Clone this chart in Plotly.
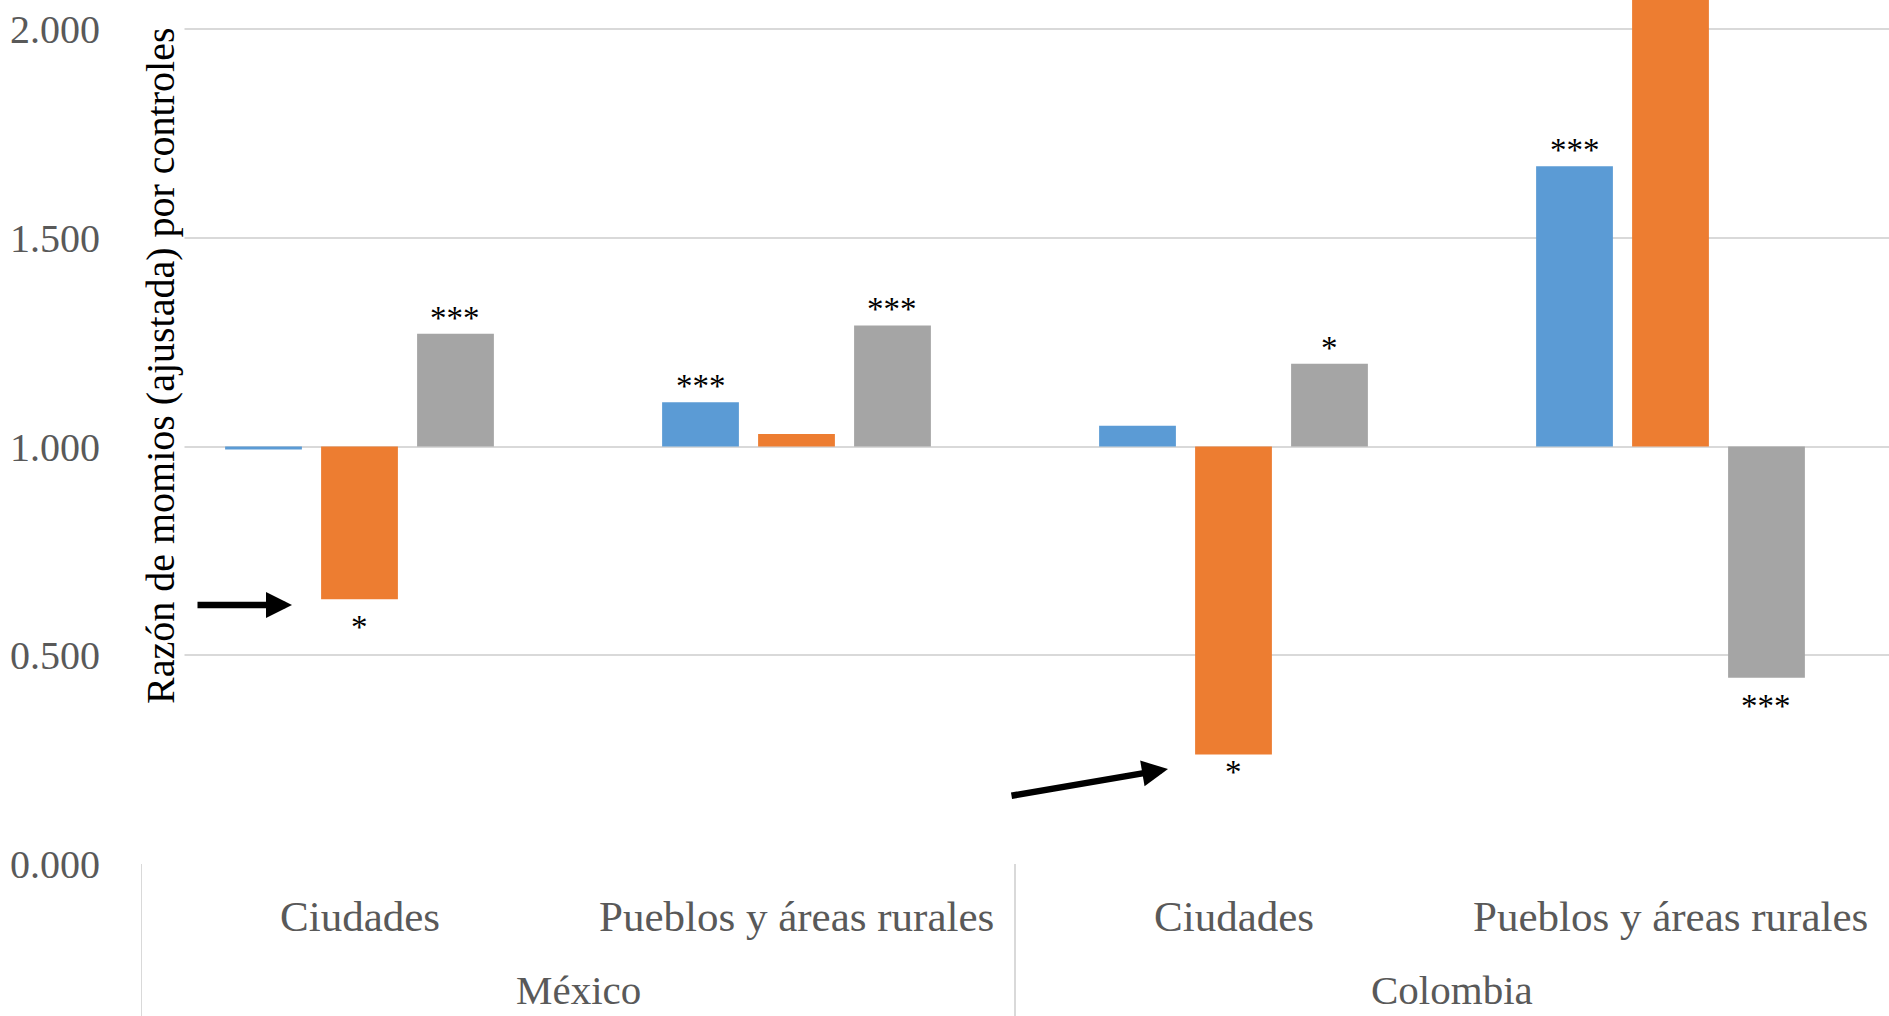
import numpy as np
import plotly.graph_objects as go

# Adjusted odds ratios by country and area type (bars are drawn from the 1.0 reference line)
countries = ["México", "Colombia"]
areas = ["Ciudades", "Pueblos y áreas rurales", "Ciudades", "Pueblos y áreas rurales"]
series_names = ["Serie 1", "Serie 2", "Serie 3"]
serie_1 = [0.993, 1.106, 1.050, 1.671]
serie_2 = [0.634, 1.030, 0.262, 2.300]
serie_3 = [1.270, 1.290, 1.198, 0.446]
sig_1 = ["", "***", "", "***"]
sig_2 = ["*", "", "*", ""]
sig_3 = ["***", "***", "*", "***"]
y_ticks = [0.0, 0.5, 1.0, 1.5, 2.0]

colors = ["#5B9BD5", "#ED7D31", "#A5A5A5"]
series = [serie_1, serie_2, serie_3]
signif = [sig_1, sig_2, sig_3]
reference = 1.0

# extra pixel nudge for individual star labels (series index, category index)
star_nudge = {(1, 2): 11}

W, H = 1889, 1016
ml, mr, mt, mb = 141, 0, 0, 152
plot_h = H - mt - mb
y_top = 2.0695

bargap = 0.341
slot = (1 - bargap) / 3
x_pos = np.arange(len(areas))

fig = go.Figure()
for name, vals, col in zip(series_names, series, colors):
    v = np.array(vals)
    fig.add_trace(go.Bar(
        x=x_pos, y=v - reference, base=reference, name=name,
        marker=dict(color=col, line=dict(width=0)),
        showlegend=False,
    ))

serif = "Liberation Serif"
annotations = []

# significance stars beyond the end of each bar
for k, (vals, stars) in enumerate(zip(series, signif)):
    for i, (v, s) in enumerate(zip(vals, stars)):
        if not s:
            continue
        above = v >= reference
        shift = -4 if above else -8
        shift += star_nudge.get((k, i), 0)
        annotations.append(dict(
            x=i + (k - 1) * slot, y=v, xref="x", yref="y",
            text=s, showarrow=False,
            yanchor="bottom" if above else "top",
            yshift=shift,
            font=dict(family=serif, size=33, color="black"),
        ))

# category labels (two levels)
for i, a in enumerate(areas):
    annotations.append(dict(
        x=i, y=(plot_h - 916) / plot_h,
        xref="x", yref="paper", text=a, showarrow=False,
        yanchor="middle", font=dict(family=serif, size=43, color="#595959"),
    ))
for g, c in enumerate(countries):
    annotations.append(dict(
        x=2 * g + 0.5, y=(plot_h - 990) / plot_h,
        xref="x", yref="paper", text=c, showarrow=False,
        yanchor="middle", font=dict(family=serif, size=41, color="#595959"),
    ))

# rotated axis title sitting inside the plot area
annotations.append(dict(
    x=(160 - ml) / (W - ml - mr), y=(plot_h - 366) / plot_h,
    xref="paper", yref="paper", text="Razón de momios (ajustada) por controles",
    textangle=-90, showarrow=False, xanchor="center", yanchor="middle",
    bgcolor="white", font=dict(family=serif, size=40, color="black"),
))

# pointer arrows
def px_x(px):
    return (px - ml) / (W - ml - mr)

def px_y(py):
    return (plot_h - py) / plot_h

for tip, tail in [((292, 605), (196, 605)), ((1168, 769), (1010, 796))]:
    annotations.append(dict(
        x=px_x(tip[0]), y=px_y(tip[1]), xref="paper", yref="paper",
        ax=tail[0] - tip[0], ay=tail[1] - tip[1], axref="pixel", ayref="pixel",
        text="", showarrow=True, arrowhead=2, arrowsize=0.8, arrowwidth=6.5,
        arrowcolor="black", standoff=0,
    ))

shapes = []
for xb in [-0.5, 1.5]:
    shapes.append(dict(
        type="line", xref="x", yref="paper", x0=xb, x1=xb, y0=0, y1=-mb / plot_h,
        line=dict(color="#D9D9D9", width=2),
    ))

fig.update_layout(
    width=W, height=H,
    margin=dict(l=ml, r=mr, t=mt, b=mb),
    paper_bgcolor="white", plot_bgcolor="white",
    barmode="group", bargap=bargap, bargroupgap=0.2,
    annotations=annotations, shapes=shapes,
    xaxis=dict(range=[-0.5, 3.5], showticklabels=False, showgrid=False,
               zeroline=False, showline=False, ticks=""),
    yaxis=dict(range=[0, y_top], tickvals=y_ticks, tickformat=".3f",
               showgrid=True, gridcolor="#D9D9D9", gridwidth=2,
               zeroline=False, showline=False, ticks="",
               ticklabelstandoff=40,
               tickfont=dict(family=serif, size=40, color="#595959")),
)

fig.write_html("out.html")
